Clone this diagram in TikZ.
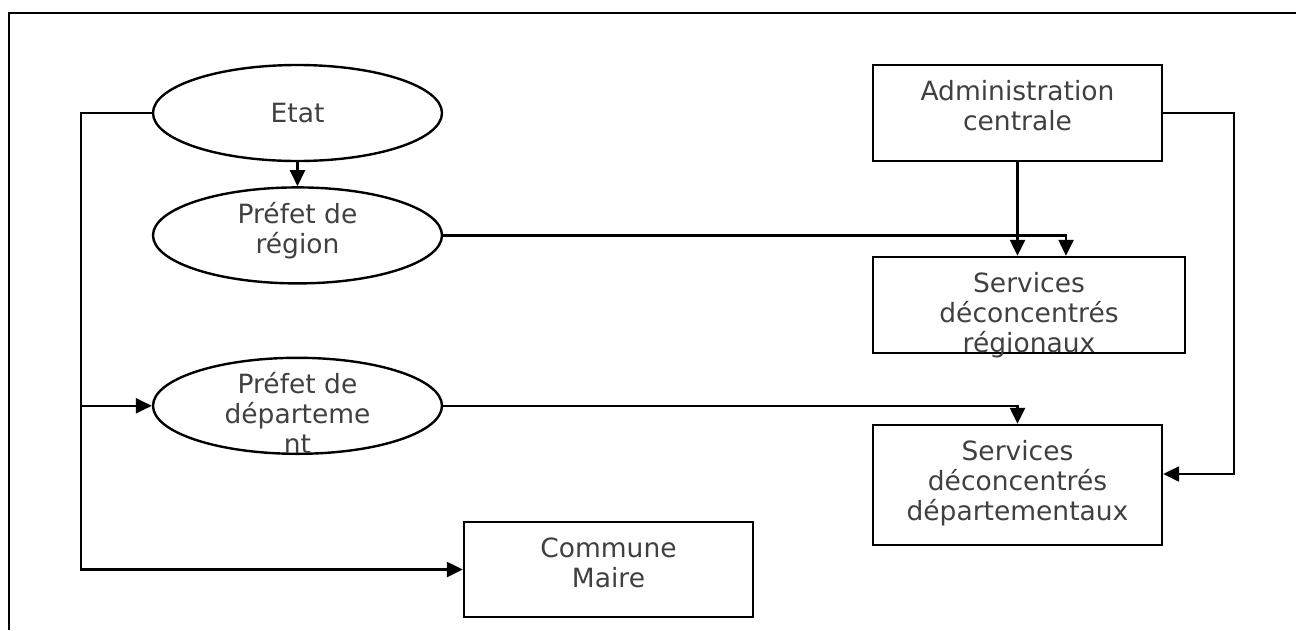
\documentclass[tikz,border=0pt]{standalone}
\usepackage{fontspec}
\setmainfont{DejaVu Sans}
\usepackage{tikz}
\usetikzlibrary{arrows.meta,positioning,shapes.geometric}
\definecolor{textgrey}{RGB}{64,64,64}
\newcommand{\boxtext}[2]{\parbox[c][#1][t]{270pt}{\centering\rule{0pt}{35pt}#2}}
\newcommand{\ovaltext}[1]{\parbox[c][67pt][t]{180pt}{\centering\rule{0pt}{21pt}#1}}

\begin{document}
\begin{tikzpicture}[x=1pt, y=-1pt,
          node distance=24pt,
          every node/.style={font=\fontsize{26.5}{30}\selectfont, text=textgrey},
          oval/.style={draw, ellipse, line width=2.4pt, inner sep=0pt,
                       minimum width=289pt, minimum height=96pt},
          box/.style={draw, rectangle, line width=2.4pt, inner sep=0pt,
                      minimum width=289pt},
          link/.style={line width=2.4pt},
          arr/.style={link, -{Triangle[length=16pt, width=15pt]}}]
        \useasboundingbox (0,0) rectangle (1296,630);
        \draw[line width=2.8pt] (9,630) -- (9,13) -- (1296,13);
        \node[oval] (etat) at (297.5,113) {Etat};
        \node[oval, below=of etat] (pregion) {\ovaltext{Préfet de\\région}};
        \node[oval, below=72pt of pregion] (pdept) {%
          \ovaltext{Préfet de\\départeme\\nt}};
        \node[box] (admin) at (1017.5,113) {\boxtext{96pt}{Administration\\centrale}};
        \node[box, minimum width=312pt] (sregion) at (1029,305) {%
          \boxtext{96pt}{Services\\déconcentrés\\régionaux}};
        \node[box] (sdept) at (1017.5,485) {%
          \boxtext{120pt}{Services\\déconcentrés\\départementaux}};
        \node[box] (commune) at (608.5,569.5) {\boxtext{95pt}{Commune\\Maire}};
        \coordinate (bus) at (81,0);
        \draw[arr] (etat) -- (pregion);
        \draw[arr] (etat.west) -- (etat.west -| bus) |- (commune.west);
        \draw[arr] (pdept.west -| bus) -- (pdept.west);
        \draw[arr] (pregion.east) -| ([xshift=37pt]sregion.north);
        \draw[arr] (admin.south) -- (sregion.north -| admin.south);
        \draw[arr] (pdept.east) -| (sdept.north);
        \draw[arr] (admin.east) -- ++(71,0) |- ([yshift=11pt]sdept.east);
      \end{tikzpicture}
\end{document}
